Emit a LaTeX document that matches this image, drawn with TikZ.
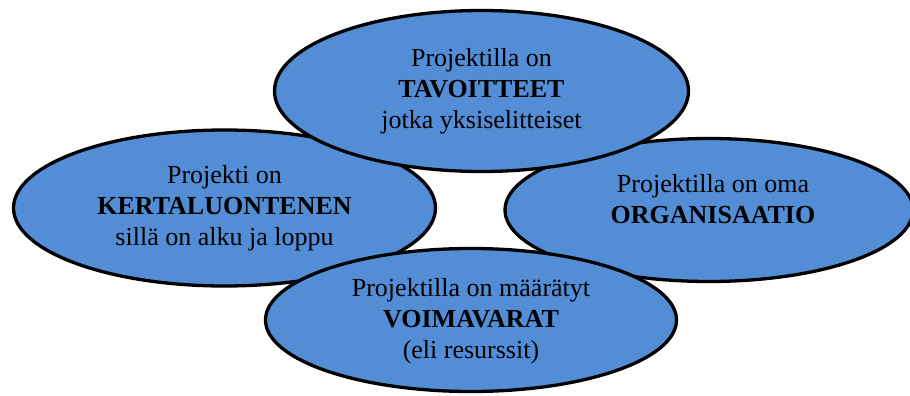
\documentclass[tikz,border=0pt]{standalone}
\usepackage{fontspec}
\setmainfont{Liberation Serif}
\usetikzlibrary{shapes.geometric,calc}
\definecolor{ovalblue}{RGB}{83,141,213}

\begin{document}
\begin{tikzpicture}[x=1pt,y=-1pt,
  oval/.style={ellipse,draw=black,line width=3.3pt,fill=ovalblue,inner sep=0pt},
  txt/.style={align=center,font=\fontsize{26}{31}\selectfont,inner sep=0pt}]
\useasboundingbox (0,0) rectangle (910,396);

% left, right, top, bottom
\node[oval,minimum width=422pt,minimum height=156pt] (kerta) at (224.5,208) {};
\node[txt] (kertatext) at (kerta) {Projekti on\\\textbf{KERTALUONTENEN}\\sillä on alku ja loppu};

\node[oval,minimum width=408pt,minimum height=143pt] (org) at (709,210) {};
\node[txt] (orgtext) at ($(org)+(4,-11)$) {Projektilla on oma\\\textbf{ORGANISAATIO}};

\node[oval,minimum width=414pt,minimum height=161pt] (tavo) at (481.5,91) {};
\node[txt] (tavotext) at (tavo) {Projektilla on\\\textbf{TAVOITTEET}\\jotka yksiselitteiset};

\node[oval,minimum width=411pt,minimum height=143pt] (voima) at (471,320) {};
\node[txt] (voimatext) at ($(voima)+(0,1)$) {Projektilla on määrätyt\\\textbf{VOIMAVARAT}\\(eli resurssit)};

\end{tikzpicture}
\end{document}
